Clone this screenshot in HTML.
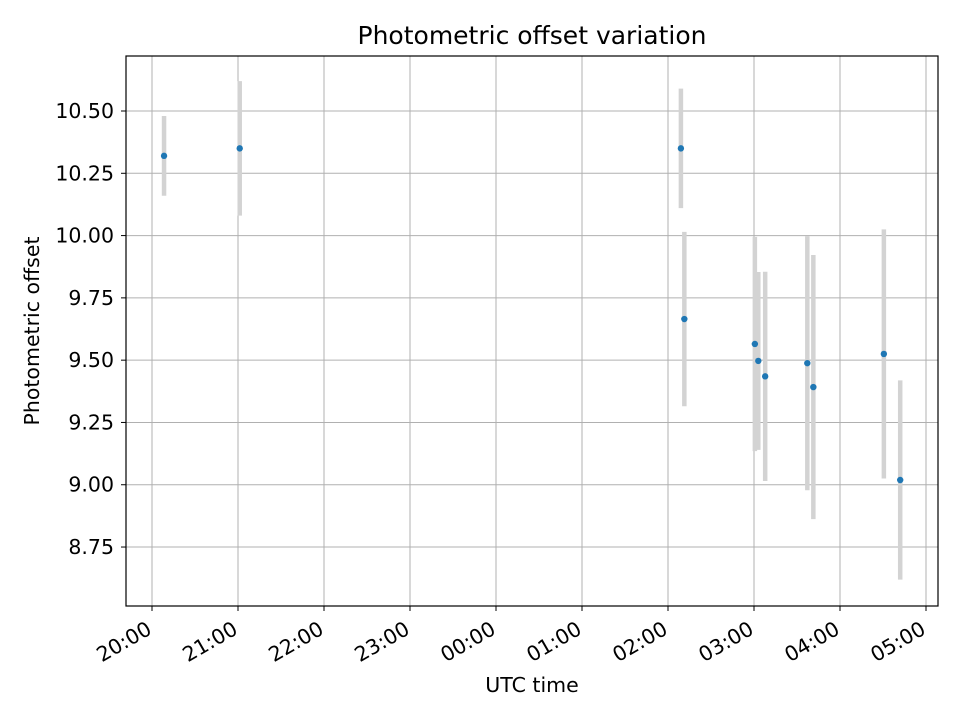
<!DOCTYPE html>
<html><head><meta charset="utf-8"><style>
html,body{margin:0;padding:0;background:#fff}
svg text{font-family:"DejaVu Sans","Liberation Sans",sans-serif;fill:#000}
</style></head><body>
<svg id="chart" width="960" height="720" xmlns="http://www.w3.org/2000/svg">
<rect width="960" height="720" fill="#fff"/>
<g id="grid"></g>
<g id="bars"></g>
<g id="pts"></g>
<rect x="126" y="56" width="812" height="550" fill="none" stroke="#000" stroke-width="1.2"/>
<g id="ticks"></g>
<text x="532" y="44" font-size="25" text-anchor="middle">Photometric offset variation</text>
<text x="532" y="692" font-size="20.5" text-anchor="middle">UTC time</text>
<text transform="translate(39,331) rotate(-90)" font-size="20.5" text-anchor="middle">Photometric offset</text>
</svg>
<script>
// hours after 20:00 UTC
const times=[0.14,1.02,6.15,6.19,7.01,7.05,7.13,7.62,7.69,8.51,8.70];
const offsets=[10.32,10.35,10.35,9.665,9.565,9.497,9.435,9.488,9.392,9.525,9.019];
const errors=[0.16,0.27,0.24,0.35,0.43,0.357,0.42,0.51,0.53,0.50,0.40];
const xTickLabels=["20:00","21:00","22:00","23:00","00:00","01:00","02:00","03:00","04:00","05:00"];
const yTickValues=[8.75,9.00,9.25,9.50,9.75,10.00,10.25,10.50];
const NS="http://www.w3.org/2000/svg";
function xs(h){return 152+h*86;}
function ys(v){return 111+(10.5-v)/0.25*62.29;}
function mk(tag,attrs,parent){const e=document.createElementNS(NS,tag);for(const k in attrs)e.setAttribute(k,attrs[k]);parent.appendChild(e);return e;}
const grid=document.getElementById('grid'),ticks=document.getElementById('ticks'),bars=document.getElementById('bars'),pts=document.getElementById('pts');
xTickLabels.forEach((lab,i)=>{
  const x=xs(i);
  const g=mk('line',{x1:x,x2:x,y1:56,y2:606,stroke:'#b0b0b0','stroke-width':1},grid);
  
  
  const t=mk('line',{x1:x,x2:x,y1:606,y2:611,stroke:'#000','stroke-width':1},ticks);
  
  
  const tx=mk('text',{transform:`translate(${x+1},${633}) rotate(-30)`,'font-size':20.5,'text-anchor':'end'},ticks);
  tx.textContent=lab;
  
  
});
yTickValues.forEach(v=>{
  const y=ys(v);
  const g=mk('line',{x1:126,x2:938,y1:y,y2:y,stroke:'#b0b0b0','stroke-width':1},grid);
  
  
  const t=mk('line',{x1:121,x2:126,y1:y,y2:y,stroke:'#000','stroke-width':1},ticks);
  
  
  const tx=mk('text',{x:114,y:y+7,'font-size':20.5,'text-anchor':'end'},ticks);
  tx.textContent=v.toFixed(2);
  
  
});
times.forEach((h,i)=>{
  const x=xs(h);
  const b=mk('line',{x1:x,x2:x,y1:ys(offsets[i]+errors[i]),y2:ys(offsets[i]-errors[i]),stroke:'#d3d3d3','stroke-width':4.5},bars);
  
  
  const c=mk('circle',{cx:x,cy:ys(offsets[i]),r:3.2,fill:'#1f77b4'},pts);
  
  
});
</script>
</body></html>
